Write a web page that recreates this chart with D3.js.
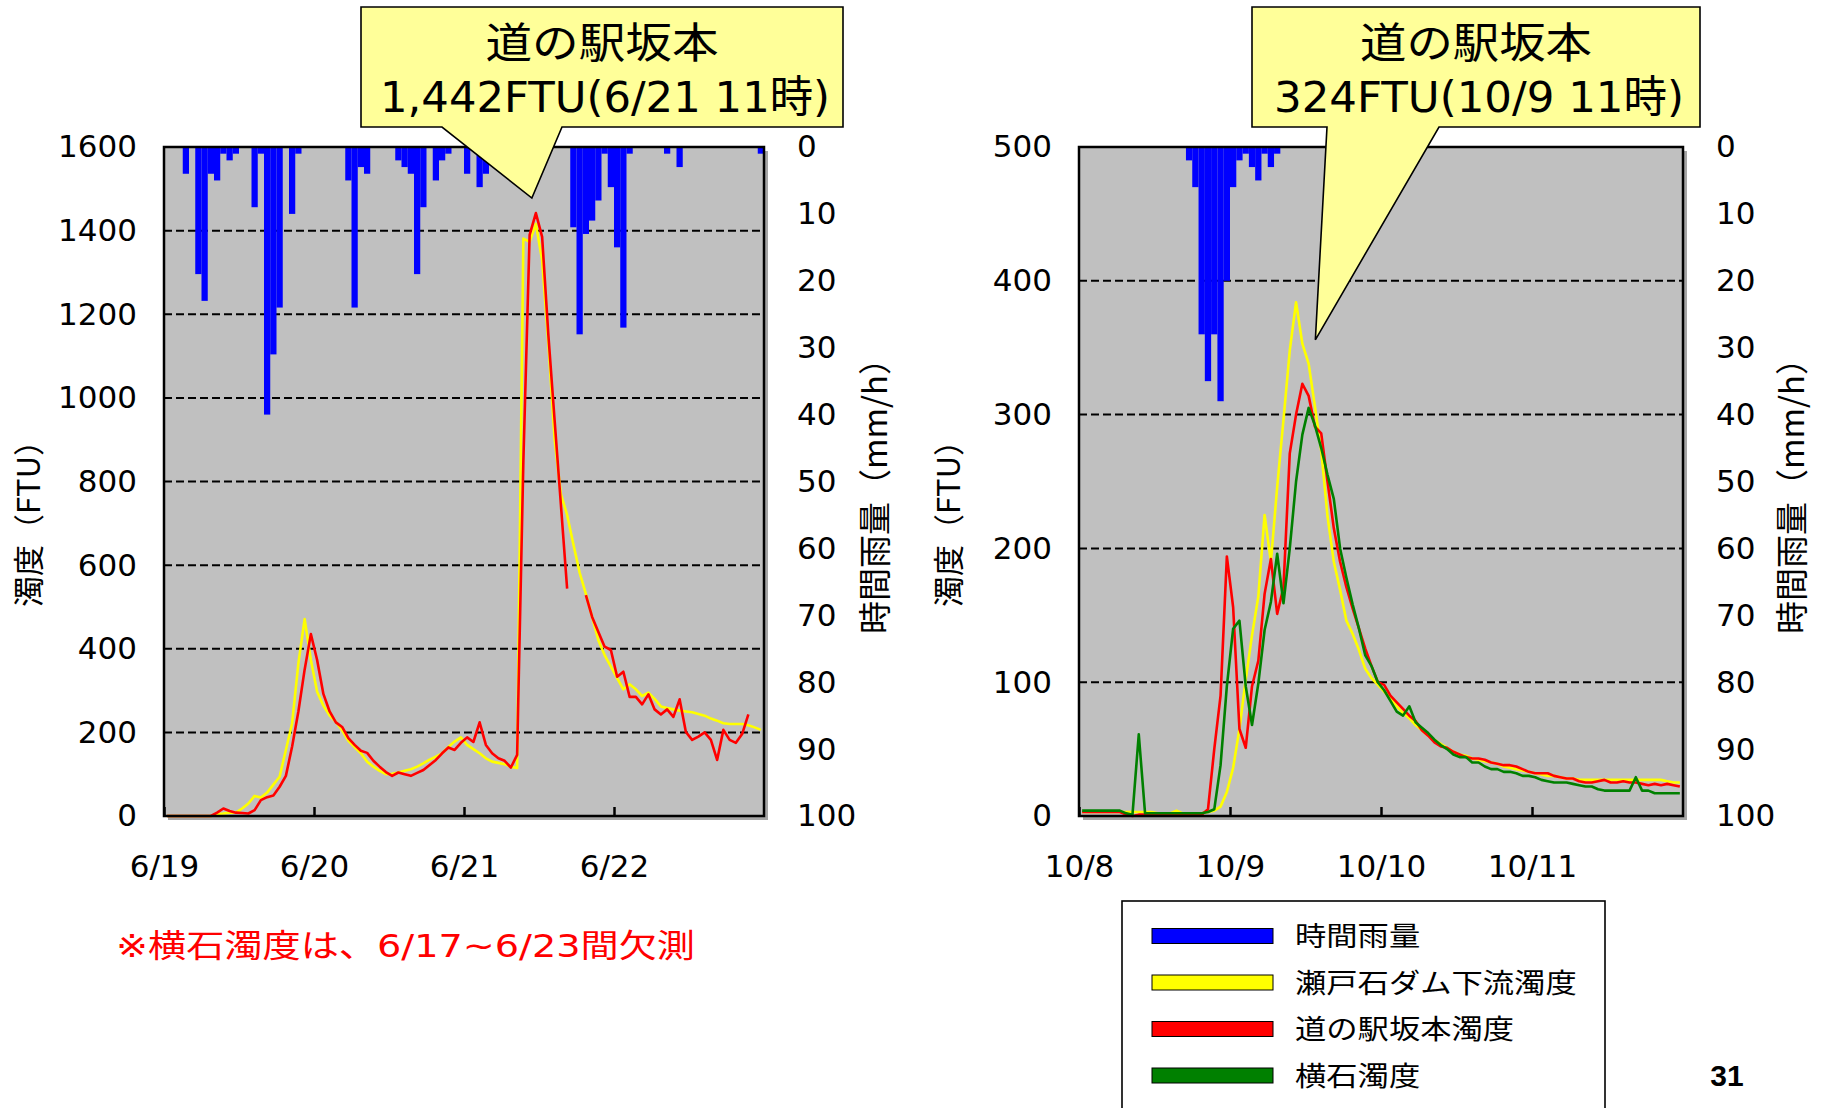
<!DOCTYPE html>
<html>
<head>
<meta charset="utf-8">
<script src="https://cdn.jsdelivr.net/npm/d3@7"></script>
<style>
  body { margin: 0; background: #fff; }
</style>
</head>
<body>
<svg id="chart" width="1825" height="1108"></svg>
<script>
// hourly values, index 0 = 0:00-1:00 of the first day shown
var juneDays = ["6/19", "6/20", "6/21", "6/22"];
var octDays = ["10/8", "10/9", "10/10", "10/11"];

var juneTurbTicks = [0, 200, 400, 600, 800, 1000, 1200, 1400, 1600];
var octTurbTicks = [0, 100, 200, 300, 400, 500];
var rainTicks = [0, 10, 20, 30, 40, 50, 60, 70, 80, 90, 100];

var juneRain = [0,0,0,4,0,19,23,4,5,1,
  2,1,0,0,9,1,40,31,24,0,
  10,1,0,0,0,0,0,0,0,5,
  24,3,4,0,0,0,0,2,3,4,
  19,9,0,5,2,1,0,0,4,0,
  6,4,0,0,0,0,0,0,0,0,
  0,0,0,0,0,12,28,13,11,8,
  1,6,15,27,1,0,0,0,0,0,
  1,0,3,0,0,0,0,0,0,0,
  0,0,0,0,0,1];

var juneSetoishi = [0,0,0,0,0,0,0,0,5,6,
  8,8,18,30,48,44,56,75,94,158,
  222,365,471,373,297,264,240,225,205,180,
  165,150,130,118,108,100,101,104,108,112,
  118,126,135,142,150,165,178,188,170,160,
  150,138,130,127,124,118,115,1381,1373,1416,
  1329,1130,900,770,720,650,582,531,476,420,
  385,357,330,303,315,303,287,295,280,262,
  258,255,252,250,248,244,240,233,228,222,
  220,220,220,217,212,206];

var juneSakamoto = [0,0,0,0,0,0,0,0,8,18,
  12,8,7,6,14,38,45,49,70,96,
  166,250,350,435,373,292,250,224,213,186,
  170,156,151,132,118,105,96,104,100,96,
  103,110,122,134,150,164,158,175,188,177,
  224,170,150,138,132,116,146,850,1390,1442,
  1385,1150,946,745,544,null,null,528,476,440,
  405,397,333,345,285,285,267,291,255,243,
  255,237,279,201,182,190,200,182,134,206,
  182,175,196,243,null,null];

var octRain = [0,0,0,0,0,0,0,0,0,0,
  0,0,0,0,0,0,0,2,6,28,
  35,28,38,20,6,2,1,3,5,1,
  3,1,0,0,0,0,0,0,0,0,
  0,0,0,0,0,0,0,0,0,0,
  0,0,0,0,0,0,0,0,0,0,
  0,0,0,0,0,0,0,0,0,0,
  0,0,0,0,0,0,0,0,0,0,
  0,0,0,0,0,0,0,0,0,0,
  0,0,0,0,0,0];

var octSetoishi = [3,3,3,3,3,3,3,3,3,3,
  3,3,2,2,2,4,2,2,2,2,
  3,4,7,18,36,65,102,135,164,225,
  190,246,296,348,384,353,338,306,273,224,
  190,169,146,136,124,110,103,98,93,88,
  82,77,73,68,64,60,57,54,51,48,
  46,45,43,42,41,40,39,37,36,35,
  34,33,32,31,30,30,29,28,28,27,
  27,27,27,27,27,27,27,27,27,27,
  27,27,27,26,25,25];

var octSakamoto = [3,3,3,3,3,3,3,1,0,1,
  1,1,1,1,1,1,1,1,1,1,
  5,50,90,194,156,65,51,97,116,166,
  192,151,171,271,300,323,314,291,286,250,
  215,190,171,155,140,125,112,100,98,90,
  85,80,75,71,64,60,55,52,51,48,
  46,44,43,43,42,40,39,38,38,37,
  35,33,32,32,32,30,29,28,28,26,
  25,25,26,27,25,25,26,25,25,24,
  23,24,23,24,23,22];

var octYokoishi = [4,4,4,4,4,4,4,2,1,61,
  2,2,2,2,2,2,2,2,2,2,
  3,5,38,97,140,146,97,68,99,139,
  160,196,159,200,250,285,305,292,275,255,
  237,200,178,158,140,120,112,100,94,86,
  78,75,82,70,66,62,57,53,50,46,
  44,44,40,40,37,35,35,33,33,32,
  30,30,29,27,26,25,25,25,24,23,
  22,22,20,19,19,19,19,19,29,19,
  19,17,17,17,17,17];

var legendLabels = ["時間雨量", "瀬戸石ダム下流濁度", "道の駅坂本濁度", "横石濁度"];
var legendColors = ["#0000ff", "#ffff00", "#ff0000", "#008000"];

var juneCallout = ["道の駅坂本", "1,442FTU(6/21 11時)"];
var octCallout = ["道の駅坂本", "324FTU(10/9 11時)"];
var missingNote = "※横石濁度は、6/17~6/23間欠測";

var svg = d3.select("#chart");
var numFont = "'DejaVu Sans', 'Noto Sans CJK JP', sans-serif";
var jpFont = "'Noto Sans CJK JP', sans-serif";

// squeeze / stretch a text element to a given width
function fitWidth(sel, w) {
    sel.attr("textLength", w).attr("lengthAdjust", "spacingAndGlyphs");
}

function drawPanel(p) {
    var g = svg.append("g");
    var x = d3.scaleLinear().domain([0, 96]).range([p.x0, p.x1]);
    var yT = d3.scaleLinear().domain([0, p.turbTicks[p.turbTicks.length - 1]]).range([p.y1, p.y0]);
    var yR = d3.scaleLinear().domain([0, 100]).range([p.y0, p.y1]);

    // drop shadow + plot background
    g.append("rect")
        .attr("x", p.x0 + 4).attr("y", p.y0 + 4)
        .attr("width", p.x1 - p.x0).attr("height", p.y1 - p.y0)
        .attr("fill", "#a6a6a6");
    g.append("rect")
        .attr("x", p.x0).attr("y", p.y0)
        .attr("width", p.x1 - p.x0).attr("height", p.y1 - p.y0)
        .attr("fill", "#c0c0c0");

    // dashed gridlines
    g.selectAll(".grid")
        .data(p.turbTicks.slice(1, -1))
        .enter().append("line")
        .attr("class", "grid")
        .attr("x1", p.x0).attr("x2", p.x1)
        .attr("y1", function (d) { return yT(d); })
        .attr("y2", function (d) { return yT(d); })
        .attr("stroke", "#000")
        .attr("stroke-width", 2)
        .attr("stroke-dasharray", "8,4");

    // hanging rain bars
    g.selectAll(".rain")
        .data(p.rain)
        .enter().append("rect")
        .attr("class", "rain")
        .attr("x", function (d, i) { return x(i); })
        .attr("width", function (d, i) { return x(i + 1) - x(i); })
        .attr("y", yR(0))
        .attr("height", function (d) { return yR(d) - yR(0); })
        .attr("fill", "#0000ff");

    var line = d3.line()
        .defined(function (d) { return d !== null; })
        .x(function (d, i) { return x(i + 0.5); })
        .y(function (d) { return yT(d); });

    p.series.forEach(function (s) {
        g.append("path")
            .datum(s.values)
            .attr("d", line)
            .attr("fill", "none")
            .attr("stroke", s.color)
            .attr("stroke-width", 2.6)
            .attr("stroke-linejoin", "round");
    });

    // frame
    g.append("rect")
        .attr("x", p.x0).attr("y", p.y0)
        .attr("width", p.x1 - p.x0).attr("height", p.y1 - p.y0)
        .attr("fill", "none")
        .attr("stroke", "#000")
        .attr("stroke-width", 2.5);

    // axes
    var axL = g.append("g")
        .attr("transform", "translate(" + p.x0 + ",0)")
        .call(d3.axisLeft(yT).tickValues(p.turbTicks).tickFormat(d3.format("d"))
            .tickSize(0).tickPadding(27));
    var axR = g.append("g")
        .attr("transform", "translate(" + p.x1 + ",0)")
        .call(d3.axisRight(yR).tickValues(rainTicks).tickFormat(d3.format("d"))
            .tickSize(0).tickPadding(33));
    var axB = g.append("g")
        .attr("transform", "translate(0," + p.y1 + ")")
        .call(d3.axisBottom(x).tickValues([0, 24, 48, 72])
            .tickFormat(function (d, i) { return p.days[i]; })
            .tickSizeInner(-9).tickSizeOuter(0).tickPadding(39));

    [axL, axR, axB].forEach(function (ax) {
        ax.select(".domain").remove();
        ax.selectAll("text")
            .attr("fill", "#000")
            .style("font-family", numFont)
            .style("font-size", "31px");
        ax.selectAll("line").attr("stroke", "#000").attr("stroke-width", 2.5);
    });

    // axis titles
    g.append("text")
        .attr("transform", "translate(" + p.titleLX + "," + p.titleLY + ") rotate(-90)")
        .attr("text-anchor", "middle")
        .attr("dy", "0.35em")
        .style("font-family", jpFont)
        .style("font-size", "31px")
        .text("濁度（FTU）");
    g.append("text")
        .attr("transform", "translate(" + p.titleRX + "," + p.titleRY + ") rotate(-90)")
        .attr("text-anchor", "middle")
        .attr("dy", "0.35em")
        .style("font-family", jpFont)
        .style("font-size", "33px")
        .text("時間雨量（mm/h）");

    return { x: x, yT: yT };
}

function drawCallout(sc, c) {
    var tip = [sc.x(c.peakIdx + 0.5) + c.dx, sc.yT(c.peakVal) + c.dy];
    var path = d3.path();
    path.moveTo(c.left, c.top);
    path.lineTo(c.right, c.top);
    path.lineTo(c.right, c.bottom);
    path.lineTo(c.baseR, c.bottom);
    path.lineTo(tip[0], tip[1]);
    path.lineTo(c.baseL, c.bottom);
    path.lineTo(c.left, c.bottom);
    path.closePath();
    svg.append("path")
        .attr("d", path.toString())
        .attr("fill", "#ffff99")
        .attr("stroke", "#000")
        .attr("stroke-width", 1.6);
    var cx = (c.left + c.right) / 2;
    svg.append("text")
        .attr("x", cx).attr("y", 58)
        .attr("text-anchor", "middle")
        .style("font-family", jpFont)
        .style("font-size", "42px")
        .text(c.lines[0])
        .call(fitWidth, c.w1);
    svg.append("text")
        .attr("x", cx + 3).attr("y", 112)
        .attr("text-anchor", "middle")
        .style("font-family", numFont)
        .style("font-size", "43px")
        .text(c.lines[1])
        .call(fitWidth, c.w2);
}

var juneScales = drawPanel({
    x0: 164, x1: 764, y0: 147, y1: 816,
    turbTicks: juneTurbTicks, days: juneDays, rain: juneRain,
    series: [
        { values: juneSetoishi, color: "#ffff00" },
        { values: juneSakamoto, color: "#ff0000" }
    ],
    titleLX: 29, titleLY: 516, titleRX: 875, titleRY: 488
});

var octScales = drawPanel({
    x0: 1079, x1: 1683, y0: 147, y1: 816,
    turbTicks: octTurbTicks, days: octDays, rain: octRain,
    series: [
        { values: octSetoishi, color: "#ffff00" },
        { values: octSakamoto, color: "#ff0000" },
        { values: octYokoishi, color: "#008000" }
    ],
    titleLX: 949, titleLY: 516, titleRX: 1792, titleRY: 488
});

drawCallout(juneScales, {
    left: 361, right: 843, top: 7, bottom: 127, baseL: 442, baseR: 562,
    peakIdx: 59, peakVal: 1442, dx: -4, dy: -15,
    lines: juneCallout, w1: 233, w2: 450
});
drawCallout(octScales, {
    left: 1252, right: 1700, top: 7, bottom: 127, baseL: 1327, baseR: 1439,
    peakIdx: 35, peakVal: 323, dx: 13, dy: -44,
    lines: octCallout, w1: 232, w2: 410
});

// note under left chart
svg.append("text")
    .attr("x", 116).attr("y", 957)
    .attr("fill", "#ff0000")
    .style("font-family", numFont)
    .style("font-size", "32px")
    .text(missingNote)
    .call(fitWidth, 579);

// legend
var legend = svg.append("g");
legend.append("rect")
    .attr("x", 1122).attr("y", 901)
    .attr("width", 483).attr("height", 230)
    .attr("fill", "#fff")
    .attr("stroke", "#000")
    .attr("stroke-width", 1.6);
var rows = legend.selectAll(".row")
    .data(legendLabels)
    .enter().append("g")
    .attr("transform", function (d, i) { return "translate(0," + (936 + i * 46.5) + ")"; });
rows.append("rect")
    .attr("x", 1152).attr("y", -7.5)
    .attr("width", 121).attr("height", 15)
    .attr("fill", function (d, i) { return legendColors[i]; })
    .attr("stroke", "#000")
    .attr("stroke-width", 1);
rows.append("text")
    .attr("x", 1295).attr("y", 10)
    .style("font-family", jpFont)
    .style("font-size", "27px")
    .text(function (d) { return d; })
    .each(function (d) {
        d3.select(this).call(fitWidth, d.length * 31.3);
    });

// page number
svg.append("text")
    .attr("x", 1727).attr("y", 1086)
    .attr("text-anchor", "middle")
    .style("font-family", "'Liberation Sans', Arial, sans-serif")
    .style("font-weight", "bold")
    .style("font-size", "30px")
    .text("31");
</script>
</body>
</html>
